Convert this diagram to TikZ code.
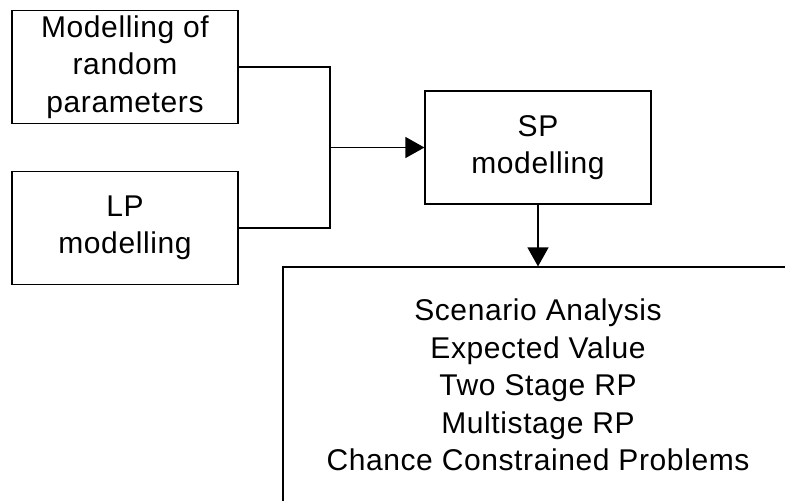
\documentclass[tikz,border=0pt]{standalone}
\usepackage{fontspec}
\setmainfont{Liberation Sans}[LetterSpace=2]
\usetikzlibrary{arrows, arrows.meta}
\tikzset{
	box/.style={rectangle, draw=black, line width=0.6pt, align=center, inner sep=0pt, minimum width=113pt, minimum height=56.5pt, font=\fontsize{15}{18.75}\selectfont},
	flow/.style={line width=0.6pt, -{Triangle[length=9.5pt, width=10.5pt]}}
}

\begin{document}
\begin{tikzpicture}[x=0.5pt, y=-0.5pt]
	\useasboundingbox (0,0) rectangle (785,500);
	\clip (0,0) rectangle (785,500);
	\node[box](mrp) at (125,67){Modelling of\\random\\parameters};
	\node[box](lp) at (125,228){LP\\modelling};
	\node[box](sp) at (538,147.5){SP\\modelling};
	\node[box, minimum width=255pt, minimum height=118pt](res) at (538,385){Scenario Analysis\\Expected Value\\Two Stage RP\\Multistage RP\\Chance Constrained Problems};
	\coordinate (jn) at (330,147.5);
	\draw[line width=0.6pt](mrp.east) -| (jn);
	\draw[line width=0.6pt](lp.east) -| (jn);
	\draw[flow](jn) -- (sp.west);
	\draw[flow](sp.south) -- (res.north);
\end{tikzpicture}
\end{document}
